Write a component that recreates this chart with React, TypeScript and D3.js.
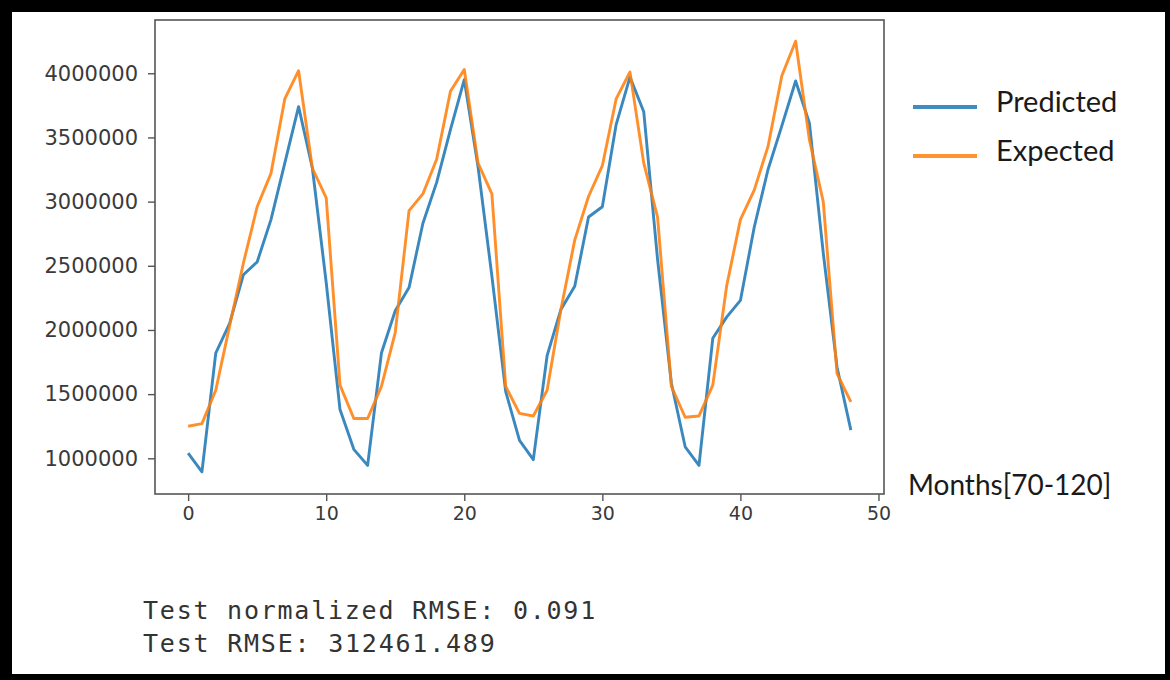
import React, { useRef, useEffect } from 'react';
import * as d3 from 'd3';

// months 0..48 of the test window
const months = d3.range(0, 49);

const predicted = [
  1040000, 895000, 1820000, 2050000, 2430000, 2530000, 2860000, 3300000, 3740000, 3260000,
  2370000, 1380000, 1070000, 945000, 1820000, 2150000, 2330000, 2830000, 3150000, 3560000,
  3950000, 3270000, 2420000, 1520000, 1140000, 990000, 1800000, 2160000, 2340000, 2880000,
  2960000, 3600000, 3970000, 3700000, 2550000, 1585000, 1090000, 945000, 1935000, 2100000,
  2230000, 2800000, 3250000, 3590000, 3940000, 3610000, 2600000, 1710000, 1220000,
];

const expected = [
  1250000, 1270000, 1530000, 2030000, 2520000, 2960000, 3220000, 3800000, 4020000, 3260000,
  3030000, 1570000, 1310000, 1310000, 1560000, 1980000, 2930000, 3060000, 3330000, 3860000,
  4030000, 3300000, 3060000, 1560000, 1350000, 1330000, 1530000, 2160000, 2700000, 3040000,
  3280000, 3800000, 4010000, 3300000, 2880000, 1560000, 1320000, 1330000, 1570000, 2340000,
  2860000, 3090000, 3430000, 3980000, 4250000, 3480000, 3000000, 1660000, 1440000,
];

const xTicks = [0, 10, 20, 30, 40, 50];
const yTicks = [1000000, 1500000, 2000000, 2500000, 3000000, 3500000, 4000000];

const seriesNames = ['Predicted', 'Expected'];
const statLines = ['Test normalized RMSE: 0.091', 'Test RMSE: 312461.489'];
const xLabel = 'Months[70-120]';

const W = 1170;
const H = 680;

const App = () => {
  const svgRef = useRef<SVGSVGElement>(null);

  useEffect(() => {
    const svg = d3.select(svgRef.current);
    svg.selectAll('*').remove();

    const left = 155, right = 884, top = 20, bottom = 494;
    const colors = ['#1f77b4', '#ff7f0e'];

    // black frame
    svg.append('rect').attr('width', W).attr('height', H).attr('fill', '#000');
    svg.append('rect').attr('x', 12).attr('y', 12).attr('width', 1153).attr('height', 662).attr('fill', '#fff');

    const x = d3.scaleLinear().domain([-2.4, 50.4]).range([left, right]);
    const y = d3.scaleLinear().domain([722000, 4415000]).range([bottom, top]);

    const line = d3
      .line<number>()
      .x((d, i) => x(months[i]))
      .y((d) => y(d));

    [predicted, expected].forEach((s, k) => {
      svg
        .append('path')
        .datum(s)
        .attr('d', line)
        .attr('fill', 'none')
        .attr('stroke', colors[k])
        .attr('stroke-width', 2.9)
        .attr('stroke-linejoin', 'round')
        .attr('opacity', 0.88);
    });

    // spines
    svg
      .append('rect')
      .attr('x', left)
      .attr('y', top)
      .attr('width', right - left)
      .attr('height', bottom - top)
      .attr('fill', 'none')
      .attr('stroke', '#555')
      .attr('stroke-width', 1.6);

    const xAxis = svg
      .append('g')
      .attr('transform', `translate(0, ${bottom})`)
      .call(d3.axisBottom(x).tickValues(xTicks).tickSize(7).tickPadding(6).tickFormat(d3.format('d')));
    xAxis.select('.domain').remove();
    xAxis.selectAll('line').attr('stroke', '#555').attr('stroke-width', 1.4);
    xAxis.selectAll('text').attr('font-family', 'DejaVu Sans').attr('font-size', 19).attr('fill', '#3a3a3a');

    const yAxis = svg
      .append('g')
      .attr('transform', `translate(${left}, 0)`)
      .call(d3.axisLeft(y).tickValues(yTicks).tickSize(7).tickPadding(10).tickFormat(d3.format('d')));
    yAxis.select('.domain').remove();
    yAxis.selectAll('line').attr('stroke', '#555').attr('stroke-width', 1.4);
    yAxis.selectAll('text').attr('font-family', 'DejaVu Sans').attr('font-size', 21).attr('fill', '#3a3a3a');

    // legend
    seriesNames.forEach((name, k) => {
      const ly = 107 + k * 49;
      svg
        .append('line')
        .attr('x1', 913)
        .attr('x2', 977)
        .attr('y1', ly)
        .attr('y2', ly)
        .attr('stroke', colors[k])
        .attr('stroke-width', 4)
        .attr('opacity', 0.85);
      svg
        .append('text')
        .attr('x', 996)
        .attr('y', ly + 5)
        .attr('font-family', 'Lato')
        .attr('font-size', 29)
        .attr('fill', '#1a1a1a')
        .text(name);
    });

    svg
      .append('text')
      .attr('x', 908)
      .attr('y', 495)
      .attr('font-family', 'Lato')
      .attr('font-size', 28)
      .attr('fill', '#1a1a1a')
      .text(xLabel);

    statLines.forEach((t, k) => {
      svg
        .append('text')
        .attr('x', 143)
        .attr('y', 619 + k * 33)
        .attr('font-family', 'DejaVu Sans Mono')
        .attr('font-size', 25)
        .attr('textLength', t.length * 16.75)
        .attr('lengthAdjust', 'spacing')
        .attr('fill', '#333')
        .text(t);
    });
  }, []);

  return (
    <div style={{ position: 'absolute', left: 0, top: 0 }}>
      <svg ref={svgRef} width={W} height={H} style={{ display: 'block' }}></svg>
    </div>
  );
};

export default App;
